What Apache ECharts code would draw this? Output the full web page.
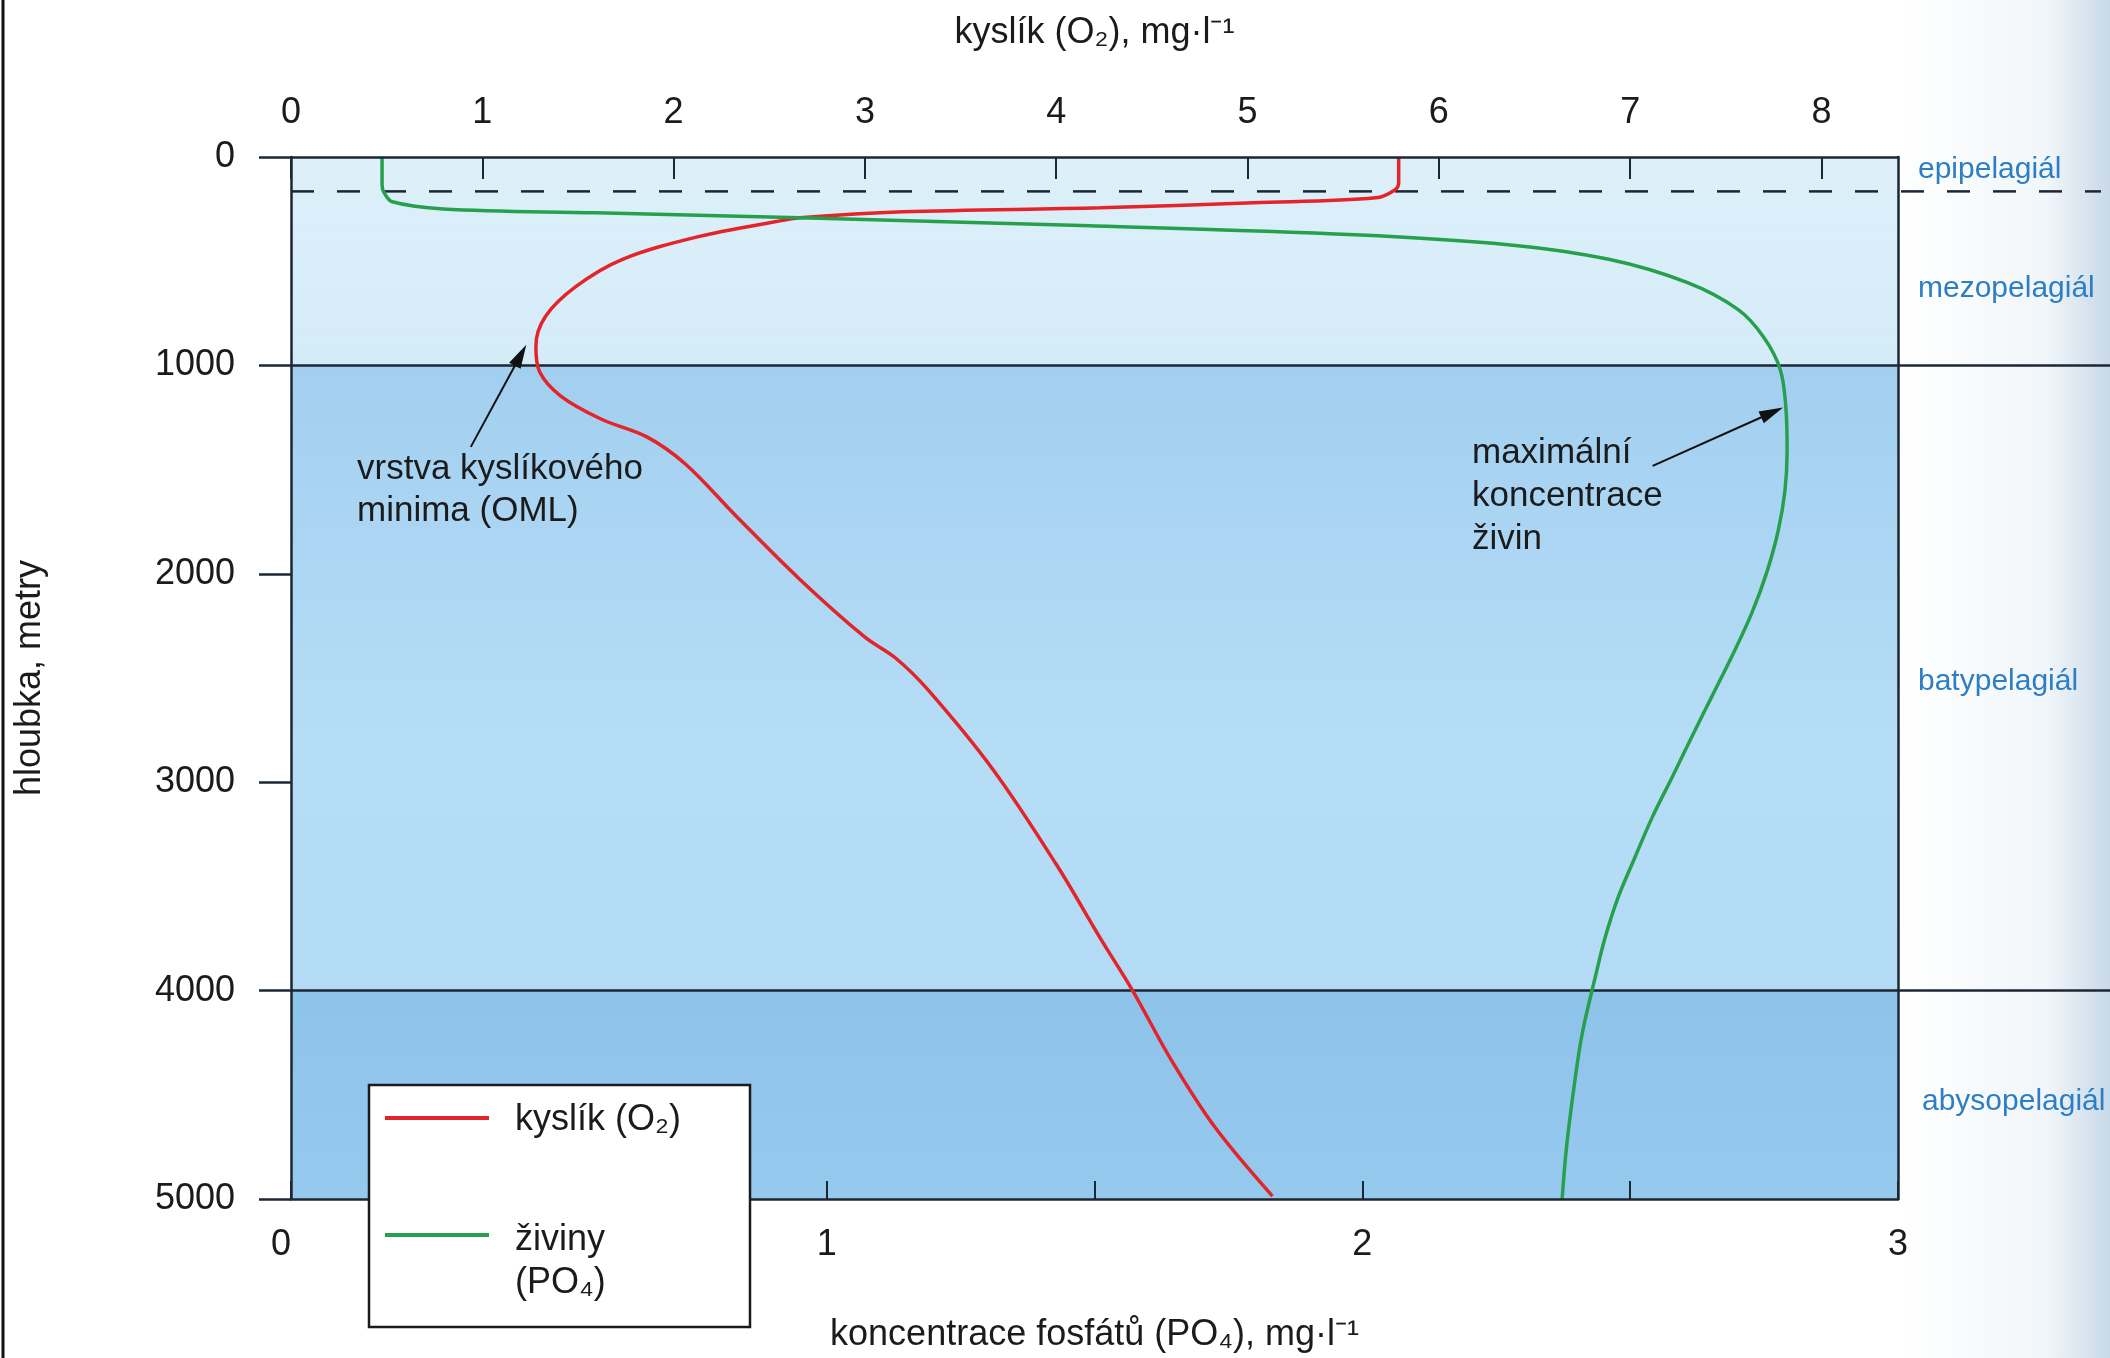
<!DOCTYPE html>
<html>
<head>
<meta charset="utf-8">
<script src="https://cdn.jsdelivr.net/npm/echarts@6/dist/echarts.min.js"></script>
<style>
  html, body { margin: 0; padding: 0; background: #ffffff; }
  #c { width: 2110px; height: 1358px; }
</style>
</head>
<body>
<div id="c"></div>
<script>
// ---- data ----
const depthO2  = [0, 124, 158, 196, 220, 244, 263, 292, 311, 382, 492, 621, 765, 908, 1032, 1147, 1257, 1343, 1472, 1726, 2027, 2304, 2404, 2557, 2940, 3394, 3748, 4001, 4331, 4656, 4986];
const valuesO2 = [5.79, 5.79, 5.77, 5.67, 5.03, 4.23, 3.20, 2.66, 2.53, 2.13, 1.73, 1.49, 1.33, 1.28, 1.30, 1.41, 1.62, 1.86, 2.06, 2.33, 2.66, 3.00, 3.16, 3.33, 3.67, 4.00, 4.23, 4.40, 4.60, 4.83, 5.13];

const depthPO4  = [0, 134, 172, 215, 249, 268, 292, 330, 373, 421, 492, 602, 731, 860, 1018, 1214, 1410, 1601, 1797, 1993, 2189, 2385, 2581, 2772, 2968, 3164, 3360, 3556, 3748, 3944, 4187, 4355, 4732, 5000];
const valuesPO4 = [0.170, 0.170, 0.174, 0.189, 0.284, 0.569, 0.950, 1.492, 1.986, 2.272, 2.462, 2.606, 2.701, 2.748, 2.780, 2.791, 2.793, 2.789, 2.776, 2.755, 2.727, 2.692, 2.654, 2.617, 2.580, 2.542, 2.509, 2.477, 2.453, 2.434, 2.412, 2.401, 2.382, 2.373];

const depthTicks = [0, 1000, 2000, 3000, 4000, 5000];
const o2Ticks    = [0, 1, 2, 3, 4, 5, 6, 7, 8];
const po4Ticks   = [0, 1, 2, 3];

const seriesNames = ['kyslík (O₂)', 'živiny (PO₄)'];
const zoneNames = ['epipelagiál', 'mezopelagiál', 'batypelagiál', 'abysopelagiál'];
const zoneBands = [[0, 1000], [1000, 4000], [4000, 5000]];
const zoneBoundaries = [1000, 4000];
const epipelagicBoundary = [165];

// annotation arrows: [tail, tip] in data units
const omlArrow = [[0.94, 1391], [1.20, 951]];        // top axis (O2) / depth
const nutrientArrow = [[2.542, 1482], [2.765, 1226]]; // bottom axis (PO4) / depth

// ---- chart ----
const FONT = '"Liberation Sans", Arial, Helvetica, sans-serif';
const INK = '#1b1b1b';
const LINE_DARK = '#1d2733';
const W = 2110, H = 1358;

const bandFills = [
  { type: 'linear', x: 0, y: 0, x2: 0, y2: 1, colorStops: [{ offset: 0, color: '#ddf0fa' }, { offset: 1, color: '#d4ecf8' }] },
  { type: 'linear', x: 0, y: 0, x2: 0, y2: 1, colorStops: [{ offset: 0, color: '#a2cff0' }, { offset: 0.6, color: '#b6ddf6' }, { offset: 1, color: '#b3dbf5' }] },
  { type: 'linear', x: 0, y: 0, x2: 0, y2: 1, colorStops: [{ offset: 0, color: '#8ec3ea' }, { offset: 1, color: '#96c9ee' }] }
];

const chart = echarts.init(document.getElementById('c'), null, { renderer: 'canvas', width: W, height: H });

const boundaryData = zoneBoundaries.map(d => [d, 0]).concat(epipelagicBoundary.map(d => [d, 1]));

const option = {
  animation: false,
  backgroundColor: '#ffffff',
  textStyle: { fontFamily: FONT },
  grid: { left: 291, right: 212, top: 157, bottom: 155, containLabel: false },
  xAxis: [
    {
      type: 'value', position: 'bottom', min: 0, max: 3, interval: 0.5, z: 5,
      name: 'koncentrace fosfátů (PO₄), mg·l⁻¹', nameLocation: 'middle', nameGap: 118,
      nameTextStyle: { fontSize: 36, color: INK, fontFamily: FONT },
      axisLine: { show: true, onZero: false, lineStyle: { color: LINE_DARK, width: 2.5 } },
      axisTick: { show: true, inside: true, length: 18, lineStyle: { color: LINE_DARK, width: 2 } },
      axisLabel: {
        margin: 28, fontSize: 36, color: INK, fontFamily: FONT, alignMinLabel: 'right',
        formatter: v => (po4Ticks.indexOf(v) >= 0 ? String(v) : '')
      },
      splitLine: { show: false }
    },
    {
      type: 'value', position: 'top', min: 0, max: 8.4, interval: 1, z: 5,
      name: 'kyslík (O₂), mg·l⁻¹', nameLocation: 'middle', nameGap: 106,
      nameTextStyle: { fontSize: 36, color: INK, fontFamily: FONT },
      axisLine: { show: true, onZero: false, lineStyle: { color: LINE_DARK, width: 2.5 } },
      axisTick: { show: true, inside: true, length: 22, lineStyle: { color: LINE_DARK, width: 2 } },
      axisLabel: {
        margin: 26, fontSize: 36, color: INK, fontFamily: FONT, showMaxLabel: false,
        formatter: v => (o2Ticks.indexOf(v) >= 0 ? String(v) : '')
      },
      splitLine: { show: false }
    }
  ],
  yAxis: [
    {
      type: 'value', position: 'left', inverse: true, min: 0, max: 5000, interval: 1000, z: 5,
      name: 'hloubka, metry', nameLocation: 'middle', nameRotate: 90, nameGap: 243,
      nameTextStyle: { fontSize: 36, color: INK, fontFamily: FONT },
      axisLine: { show: true, onZero: false, lineStyle: { color: LINE_DARK, width: 2.5 } },
      axisTick: { show: true, inside: false, length: 32, lineStyle: { color: LINE_DARK, width: 2.5 } },
      axisLabel: {
        margin: 56, fontSize: 36, color: INK, fontFamily: FONT, padding: [0, 0, 24, 0],
        formatter: v => (depthTicks.indexOf(v) >= 0 ? String(v) : '')
      },
      splitLine: { show: false }
    },
    {
      type: 'value', position: 'right', inverse: true, min: 0, max: 5000, interval: 1000, z: 5,
      axisLine: { show: true, onZero: false, lineStyle: { color: LINE_DARK, width: 2.5 } },
      axisTick: { show: false }, axisLabel: { show: false }, splitLine: { show: false }
    }
  ],
  series: [
    {
      type: 'custom', name: 'zones', xAxisIndex: 0, yAxisIndex: 0, z: 1, silent: true, clip: false,
      data: zoneBands,
      renderItem: (params, api) => {
        const p0 = api.coord([0, api.value(0)]);
        const p1 = api.coord([3, api.value(1)]);
        return {
          type: 'rect',
          shape: { x: p0[0], y: p0[1], width: p1[0] - p0[0], height: p1[1] - p0[1] },
          style: { fill: bandFills[params.dataIndex] }
        };
      }
    },
    {
      type: 'custom', name: 'boundaries', xAxisIndex: 0, yAxisIndex: 0, z: 3, silent: true, clip: false,
      data: boundaryData,
      renderItem: (params, api) => {
        const d = api.value(0);
        const dashed = api.value(1) === 1;
        const p = api.coord([0, d]);
        return {
          type: 'line',
          shape: { x1: p[0], y1: p[1], x2: dashed ? 2101 : api.getWidth(), y2: p[1] },
          style: { stroke: LINE_DARK, lineWidth: 2.5, lineDash: dashed ? [23, 23] : null }
        };
      }
    },
    {
      type: 'line', name: seriesNames[0], xAxisIndex: 1, yAxisIndex: 0, z: 4,
      data: valuesO2.map((v, i) => [v, depthO2[i]]),
      showSymbol: false, symbol: 'none', smooth: 0.35,
      lineStyle: { color: '#e3242b', width: 3.5 },
      itemStyle: { color: '#e3242b' },
      markLine: {
        silent: true, symbol: ['none', 'triangle'], symbolSize: [0, 18],
        label: { show: false },
        lineStyle: { color: '#111', width: 2, type: 'solid' },
        data: [[
          { coord: omlArrow[0], symbol: 'none' },
          { coord: omlArrow[1], symbol: 'triangle', symbolSize: [13, 24] }
        ]]
      }
    },
    {
      type: 'line', name: seriesNames[1], xAxisIndex: 0, yAxisIndex: 0, z: 4,
      data: valuesPO4.map((v, i) => [v, depthPO4[i]]),
      showSymbol: false, symbol: 'none', smooth: 0.35,
      lineStyle: { color: '#27a04e', width: 3.5 },
      itemStyle: { color: '#27a04e' },
      markLine: {
        silent: true, symbol: ['none', 'triangle'], symbolSize: [0, 18],
        label: { show: false },
        lineStyle: { color: '#111', width: 2, type: 'solid' },
        data: [[
          { coord: nutrientArrow[0], symbol: 'none' },
          { coord: nutrientArrow[1], symbol: 'triangle', symbolSize: [13, 24] }
        ]]
      }
    }
  ],
  graphic: [
    // page edge shading on the right (scan look)
    {
      type: 'rect', z: 0, silent: true,
      shape: { x: 1899, y: 0, width: W - 1899, height: H },
      style: {
        fill: { type: 'linear', x: 0, y: 0, x2: 1, y2: 0, colorStops: [
          { offset: 0, color: 'rgba(255,255,255,1)' },
          { offset: 0.7, color: '#f1f6fa' },
          { offset: 1, color: '#c8d9e7' }
        ] }
      }
    },
    // left page border
    { type: 'line', z: 50, silent: true, shape: { x1: 3, y1: 0, x2: 3, y2: H }, style: { stroke: '#111', lineWidth: 3 } },
    // zone labels
    { type: 'text', z: 50, silent: true, x: 1918, y: 170, style: { text: zoneNames[0], font: '30px ' + FONT, fill: '#2d7ec3', verticalAlign: 'middle' } },
    { type: 'text', z: 50, silent: true, x: 1918, y: 289, style: { text: zoneNames[1], font: '30px ' + FONT, fill: '#2d7ec3', verticalAlign: 'middle' } },
    { type: 'text', z: 50, silent: true, x: 1918, y: 682, style: { text: zoneNames[2], font: '30px ' + FONT, fill: '#2d7ec3', verticalAlign: 'middle' } },
    { type: 'text', z: 50, silent: true, x: 1922, y: 1102, style: { text: zoneNames[3], font: '30px ' + FONT, fill: '#2d7ec3', verticalAlign: 'middle' } },
    // annotations
    { type: 'text', z: 50, silent: true, x: 357, y: 490, style: { text: 'vrstva kyslíkového\nminima (OML)', font: '35px ' + FONT, fill: INK, verticalAlign: 'middle', lineHeight: 42 } },
    { type: 'text', z: 50, silent: true, x: 1472, y: 496, style: { text: 'maximální\nkoncentrace\nživin', font: '35px ' + FONT, fill: INK, verticalAlign: 'middle', lineHeight: 43 } },
    // legend box
    {
      type: 'group', z: 60, silent: true,
      children: [
        { type: 'rect', z: 60, shape: { x: 369, y: 1085, width: 381, height: 242 }, style: { fill: '#ffffff', stroke: '#1b1b1b', lineWidth: 2.5 } },
        { type: 'line', z: 61, shape: { x1: 385, y1: 1118, x2: 489, y2: 1118 }, style: { stroke: '#e3242b', lineWidth: 4 } },
        { type: 'text', z: 61, x: 515, y: 1120, style: { text: seriesNames[0], font: '36px ' + FONT, fill: INK, verticalAlign: 'middle' } },
        { type: 'line', z: 61, shape: { x1: 385, y1: 1235, x2: 489, y2: 1235 }, style: { stroke: '#27a04e', lineWidth: 4 } },
        { type: 'text', z: 61, x: 515, y: 1262, style: { text: seriesNames[1].replace(' ', '\n'), font: '36px ' + FONT, fill: INK, verticalAlign: 'middle', lineHeight: 43 } }
      ]
    }
  ]
};

chart.setOption(option);
</script>
</body>
</html>
